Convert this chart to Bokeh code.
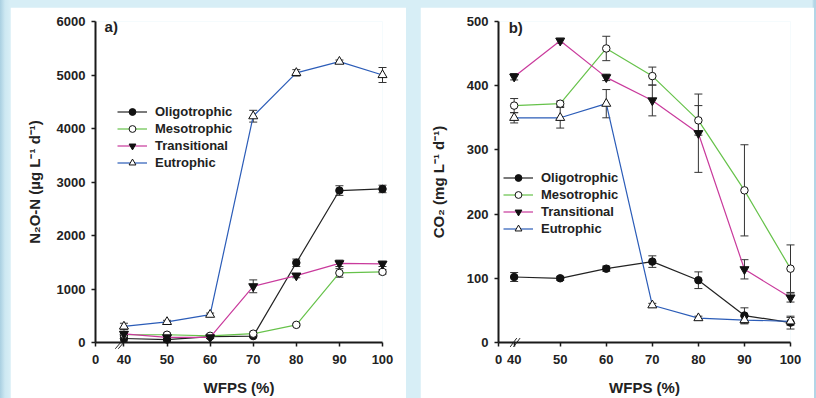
from bokeh.plotting import figure
from bokeh.layouts import row
from bokeh.models import (FixedTicker, Label, Legend, LegendItem, ColumnDataSource,
                          Range1d, CustomJSTickFormatter)
from bokeh.embed import file_html
from bokeh.resources import INLINE

# ---------------- data ----------------
wfps = [40, 50, 60, 70, 80, 90, 100]
series_names = ["Oligotrophic", "Mesotrophic", "Transitional", "Eutrophic"]

# a) N2O-N (ug L-1 d-1)
n2o_oligo = [75, 55, 110, 120, 1490, 2840, 2870]
n2o_meso = [145, 145, 125, 165, 330, 1300, 1320]
n2o_trans = [160, 95, 95, 1050, 1250, 1480, 1470]
n2o_eutro = [300, 385, 520, 4230, 5040, 5250, 5000]
n2o_oligo_err = [50, 25, 25, 20, 70, 90, 70]
n2o_meso_err = [30, 30, 30, 30, 20, 80, 40]
n2o_trans_err = [40, 20, 20, 120, 40, 60, 50]
n2o_eutro_err = [60, 30, 30, 110, 60, 30, 140]

# b) CO2 (mg L-1 d-1)
co2_oligo = [102, 100, 115, 126, 97, 42, 31]
co2_meso = [369, 372, 458, 415, 346, 237, 115]
co2_trans = [414, 470, 413, 377, 326, 114, 70]
co2_eutro = [350, 350, 372, 58, 38, 35, 33]
co2_oligo_err = [7, 3, 4, 9, 13, 12, 10]
co2_meso_err = [11, 4, 19, 14, 23, 71, 37]
co2_trans_err = [5, 4, 5, 24, 61, 15, 7]
co2_eutro_err = [8, 16, 22, 3, 3, 6, 6]

n2o_ticks = [0, 1000, 2000, 3000, 4000, 5000, 6000]
co2_ticks = [0, 100, 200, 300, 400, 500]

# ---------------- style ----------------
FONT = "Liberation Sans"
TXT = "#222222"
line_colors = ["#222222", "#66c24a", "#c93a9c", "#2b5cb8"]
markers = ["circle", "circle", "inverted_triangle", "triangle"]
fills = ["#111111", "white", "#111111", "white"]
msizes = [7.5, 7.5, 9, 9]
ERR = "#333333"
FIG_H = 391


def panel(series, errors, x_start, y_end, y_ticks, ylabel, ylabel_standoff, tag, tag_xy,
          legend_loc, width, borders, breaks):
    bl, br, bt, bb = borders
    p = figure(width=width, height=FIG_H, output_backend="svg", toolbar_location=None,
               x_range=Range1d(x_start, 100), y_range=Range1d(0, y_end),
               min_border_left=bl, min_border_right=br,
               min_border_top=bt, min_border_bottom=bb)
    p.grid.visible = False
    p.outline_line_color = None
    p.background_fill_color = "white"
    p.border_fill_color = "white"

    # error bars
    for vals, errs in zip(series, errors):
        src = ColumnDataSource(dict(x=wfps, lo=[v - e for v, e in zip(vals, errs)],
                                    hi=[v + e for v, e in zip(vals, errs)]))
        p.segment(x0="x", y0="lo", x1="x", y1="hi", source=src, line_color=ERR,
                  line_width=1, level="annotation")
        p.scatter(x="x", y="hi", source=src, marker="dash", size=8, line_color=ERR,
                  line_width=1, level="annotation")
        p.scatter(x="x", y="lo", source=src, marker="dash", size=8, line_color=ERR,
                  line_width=1, level="annotation")

    items = []
    for name, vals, col, mk, fc, ms in zip(series_names, series, line_colors,
                                            markers, fills, msizes):
        src = ColumnDataSource(dict(x=wfps, y=vals))
        lr = p.line("x", "y", source=src, line_color=col, line_width=1.2,
                    level="annotation")
        sr = p.scatter("x", "y", source=src, marker=mk, size=ms, fill_color=fc,
                       line_color="#111111", line_width=1, level="annotation")
        items.append(LegendItem(label=name, renderers=[lr, sr]))

    # axis break marks
    p.scatter(x=breaks[0], y=breaks[1], marker="dash", size=breaks[2],
              angle=breaks[3], line_color="#222222", line_width=1, level="annotation")

    legend = Legend(items=items, location=legend_loc, padding=0, margin=0, spacing=0,
                    glyph_width=30, glyph_height=17, label_height=17, label_standoff=8,
                    background_fill_alpha=0, border_line_alpha=0,
                    label_text_font=FONT, label_text_font_style="bold",
                    label_text_font_size="13px", label_text_color=TXT)
    p.add_layout(legend)

    for ax in (p.xaxis[0], p.yaxis[0]):
        ax.axis_line_color = "#1a1a1a"
        ax.axis_line_width = 2
        ax.major_tick_line_color = "#1a1a1a"
        ax.major_tick_line_width = 1.5
        ax.major_tick_out = 4
        ax.major_tick_in = 0
        ax.minor_tick_line_color = None
        ax.major_label_text_font = FONT
        ax.major_label_text_font_style = "bold"
        ax.major_label_text_font_size = "13px"
        ax.major_label_text_color = TXT
        ax.axis_label_text_font = FONT
        ax.axis_label_text_font_style = "bold"
        ax.axis_label_text_font_size = "15px"
        ax.axis_label_text_color = TXT

    p.xaxis.ticker = FixedTicker(ticks=[x_start] + wfps)
    p.xaxis.formatter = CustomJSTickFormatter(
        code="return tick < 40 ? '0' : tick.toFixed(0);")
    p.xaxis.major_label_standoff = 8
    p.xaxis.axis_label = "WFPS (%)"
    p.xaxis.axis_label_standoff = 12

    p.yaxis.ticker = FixedTicker(ticks=y_ticks)
    p.yaxis.major_label_standoff = 6
    p.yaxis.axis_label = ylabel
    p.yaxis.axis_label_standoff = ylabel_standoff

    p.add_layout(Label(x=tag_xy[0], y=tag_xy[1], text=tag, text_font=FONT,
                       text_font_style="bold", text_font_size="15px",
                       text_color=TXT, text_baseline="middle", text_align="left"))
    return p


p1 = panel([n2o_oligo, n2o_meso, n2o_trans, n2o_eutro],
           [n2o_oligo_err, n2o_meso_err, n2o_trans_err, n2o_eutro_err],
           33.4, 6000, n2o_ticks, "N\u2082O-N (\u00b5g L\u207b\u00b9 d\u207b\u00b9)", 11,
           "a)", (35.5, 5900), (22, 171), 396, (85, 24, 14, 56),
           ([38.6, 39.3], [-60, -60], 8, 0.86))
p2 = panel([co2_oligo, co2_meso, co2_trans, co2_eutro],
           [co2_oligo_err, co2_meso_err, co2_trans_err, co2_eutro_err],
           36.6, 500, co2_ticks, "CO\u2082 (mg L\u207b\u00b9 d\u207b\u00b9)", 17,
           "b)", (38.8, 490), (5, 105), 394, (78, 24, 12, 54),
           ([39.85, 40.57], [0, 0], 11, 0.93))

p1.margin = (7, 0, 0, 10)
p2.margin = (7, 2, 0, 0)
layout = row(p1, p2, spacing=14, styles={
    "background": "linear-gradient(90deg, #a9cfe1 0px, #cde8f2 5px, #d7eef6 10px, "
                  "#d7eef6 812px, #b3d5e6 814px)"})

open("out.html", "w").write(file_html(layout, INLINE))
